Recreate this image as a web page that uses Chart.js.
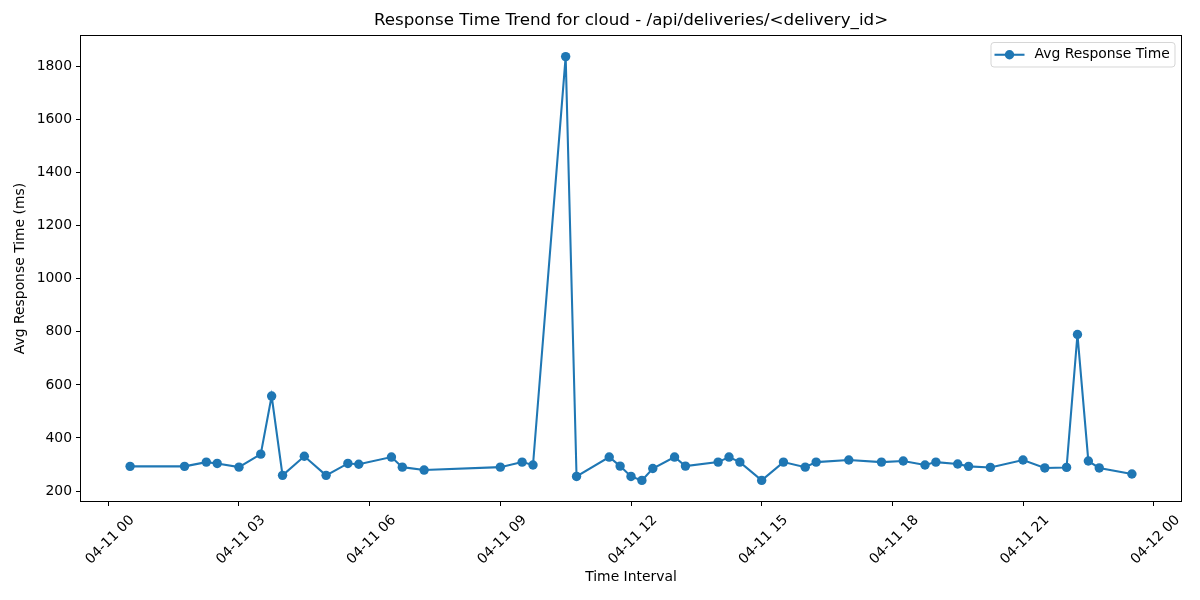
<!DOCTYPE html>
<html>
<head>
<meta charset="utf-8">
<script src="https://cdn.jsdelivr.net/npm/chart.js@4.4.1/dist/chart.umd.min.js"></script>
<style>
body { margin: 0; background: #fff; }
#wrap { width: 1200px; height: 600px; }
</style>
</head>
<body>
<div id="wrap"><canvas id="myChart" width="1200" height="600"></canvas></div>
<script>
var chartTitle = 'Response Time Trend for cloud - /api/deliveries/<delivery_id>';
var seriesLabel = 'Avg Response Time';

// time of day on 04-11 (HH:MM)
var times = ['00:30', '01:45', '02:15', '02:30', '03:00', '03:30', '03:45', '04:00', '04:30', '05:00',
             '05:30', '05:45', '06:30', '06:45', '07:15', '09:00', '09:30', '09:45', '10:30', '10:45',
             '11:30', '11:45', '12:00', '12:15', '12:30', '13:00', '13:15', '14:00', '14:15', '14:30',
             '15:00', '15:30', '16:00', '16:15', '17:00', '17:45', '18:15', '18:45', '19:00', '19:30',
             '19:45', '20:15', '21:00', '21:30', '22:00', '22:15', '22:30', '22:45', '23:30'];
// avg response time (ms)
var avgResponse = [293, 293, 309, 304, 290, 339, 558, 259, 331, 259,
                   304, 301, 328, 290, 279, 290, 309, 298, 1838, 255,
                   328, 294, 255, 240, 285, 328, 294, 309, 328, 309,
                   240, 309, 290, 309, 317, 309, 313, 298, 309, 302,
                   293, 289, 317, 287, 289, 790, 313, 287, 264];
var xTickLabels = ['04-11 00', '04-11 03', '04-11 06', '04-11 09', '04-11 12',
                   '04-11 15', '04-11 18', '04-11 21', '04-12 00'];
var yTicks = [200, 400, 600, 800, 1000, 1200, 1400, 1600, 1800];

function toHours(t) {
    var p = t.split(':');
    return parseInt(p[0], 10) + parseInt(p[1], 10) / 60;
}

var points = [];
for (var i = 0; i < times.length; i++) {
    points.push({ x: toHours(times[i]), y: avgResponse[i] });
}

var blue = '#1f77b4';
var fontFamily = '"DejaVu Sans", sans-serif';
Chart.defaults.font.family = fontFamily;
Chart.defaults.font.size = 13.9;
Chart.defaults.color = '#000';

// frame, title and legend the way matplotlib places them
var decorPlugin = {
    id: 'decor',
    afterDraw: function(chart) {
        var ctx = chart.ctx;
        var a = chart.chartArea;
        ctx.save();
        ctx.strokeStyle = '#000';
        ctx.lineWidth = 1;
        var l = Math.round(a.left) + 0.5, r = Math.round(a.right) - 0.5;
        var t = Math.round(a.top) + 0.5, b = Math.round(a.bottom) - 0.5;
        ctx.strokeRect(l, t, r - l, b - t);

        // title
        ctx.fillStyle = '#000';
        ctx.font = '16.7px ' + fontFamily;
        ctx.textAlign = 'center';
        ctx.textBaseline = 'middle';
        ctx.fillText(chartTitle, (a.left + a.right) / 2, 21);

        // legend
        var bw = 184, bh = 24.5;
        var bx = a.right - 7 - bw, by = a.top + 7.5;
        ctx.beginPath();
        ctx.roundRect(bx, by, bw, bh, 3);
        ctx.fillStyle = 'rgba(255,255,255,0.8)';
        ctx.fill();
        ctx.strokeStyle = 'rgba(204,204,204,0.8)';
        ctx.stroke();
        var cy = by + bh / 2;
        ctx.strokeStyle = blue;
        ctx.lineWidth = 2.08;
        ctx.beginPath();
        ctx.moveTo(bx + 3.5, cy);
        ctx.lineTo(bx + 33.5, cy);
        ctx.stroke();
        ctx.fillStyle = blue;
        ctx.beginPath();
        ctx.arc(bx + 18.5, cy, 4.7, 0, Math.PI * 2);
        ctx.fill();
        ctx.fillStyle = '#000';
        ctx.font = '13.9px ' + fontFamily;
        ctx.textAlign = 'left';
        ctx.fillText(seriesLabel, bx + 43.5, cy);
        ctx.restore();
    }
};

var ctx = document.getElementById('myChart').getContext('2d');
var chartInstance = new Chart(ctx, {
    type: 'line',
    data: {
        datasets: [{
            label: seriesLabel,
            data: points,
            borderColor: blue,
            backgroundColor: blue,
            borderWidth: 2.08,
            pointRadius: 4.7,
            pointBorderWidth: 0,
            pointBackgroundColor: blue,
            tension: 0,
            fill: false
        }]
    },
    options: {
        responsive: false,
        animation: false,
        layout: { padding: { top: 35, right: 18, left: 0, bottom: 0 } },
        plugins: {
            legend: { display: false },
            tooltip: { enabled: false }
        },
        scales: {
            x: {
                type: 'linear',
                min: -0.65,
                max: 24.65,
                afterFit: function(scale) { scale.height = 98; },
                border: { display: false },
                grid: { drawOnChartArea: false, tickLength: 4, color: '#000', tickColor: '#000' },
                ticks: {
                    stepSize: 3,
                    includeBounds: false,
                    minRotation: 45,
                    maxRotation: 45,
                    autoSkip: false,
                    labelOffset: 24,
                    padding: 6,
                    callback: function(value) {
                        return xTickLabels[Math.round(value / 3)];
                    }
                },
                title: {
                    display: true,
                    text: 'Time Interval',
                    padding: { top: 0, bottom: 14.7 }
                }
            },
            y: {
                min: 158.6,
                max: 1919.4,
                afterFit: function(scale) { scale.width = 80; },
                afterBuildTicks: function(scale) {
                    scale.ticks = yTicks.map(function(v) { return { value: v }; });
                },
                border: { display: false },
                grid: { drawOnChartArea: false, tickLength: 4, color: '#000', tickColor: '#000' },
                ticks: {
                    padding: 4,
                    callback: function(value) { return String(value); }
                },
                title: {
                    display: true,
                    text: 'Avg Response Time (ms)',
                    padding: { top: 12, bottom: 0 }
                }
            }
        }
    },
    plugins: [decorPlugin]
});
</script>
</body>
</html>
